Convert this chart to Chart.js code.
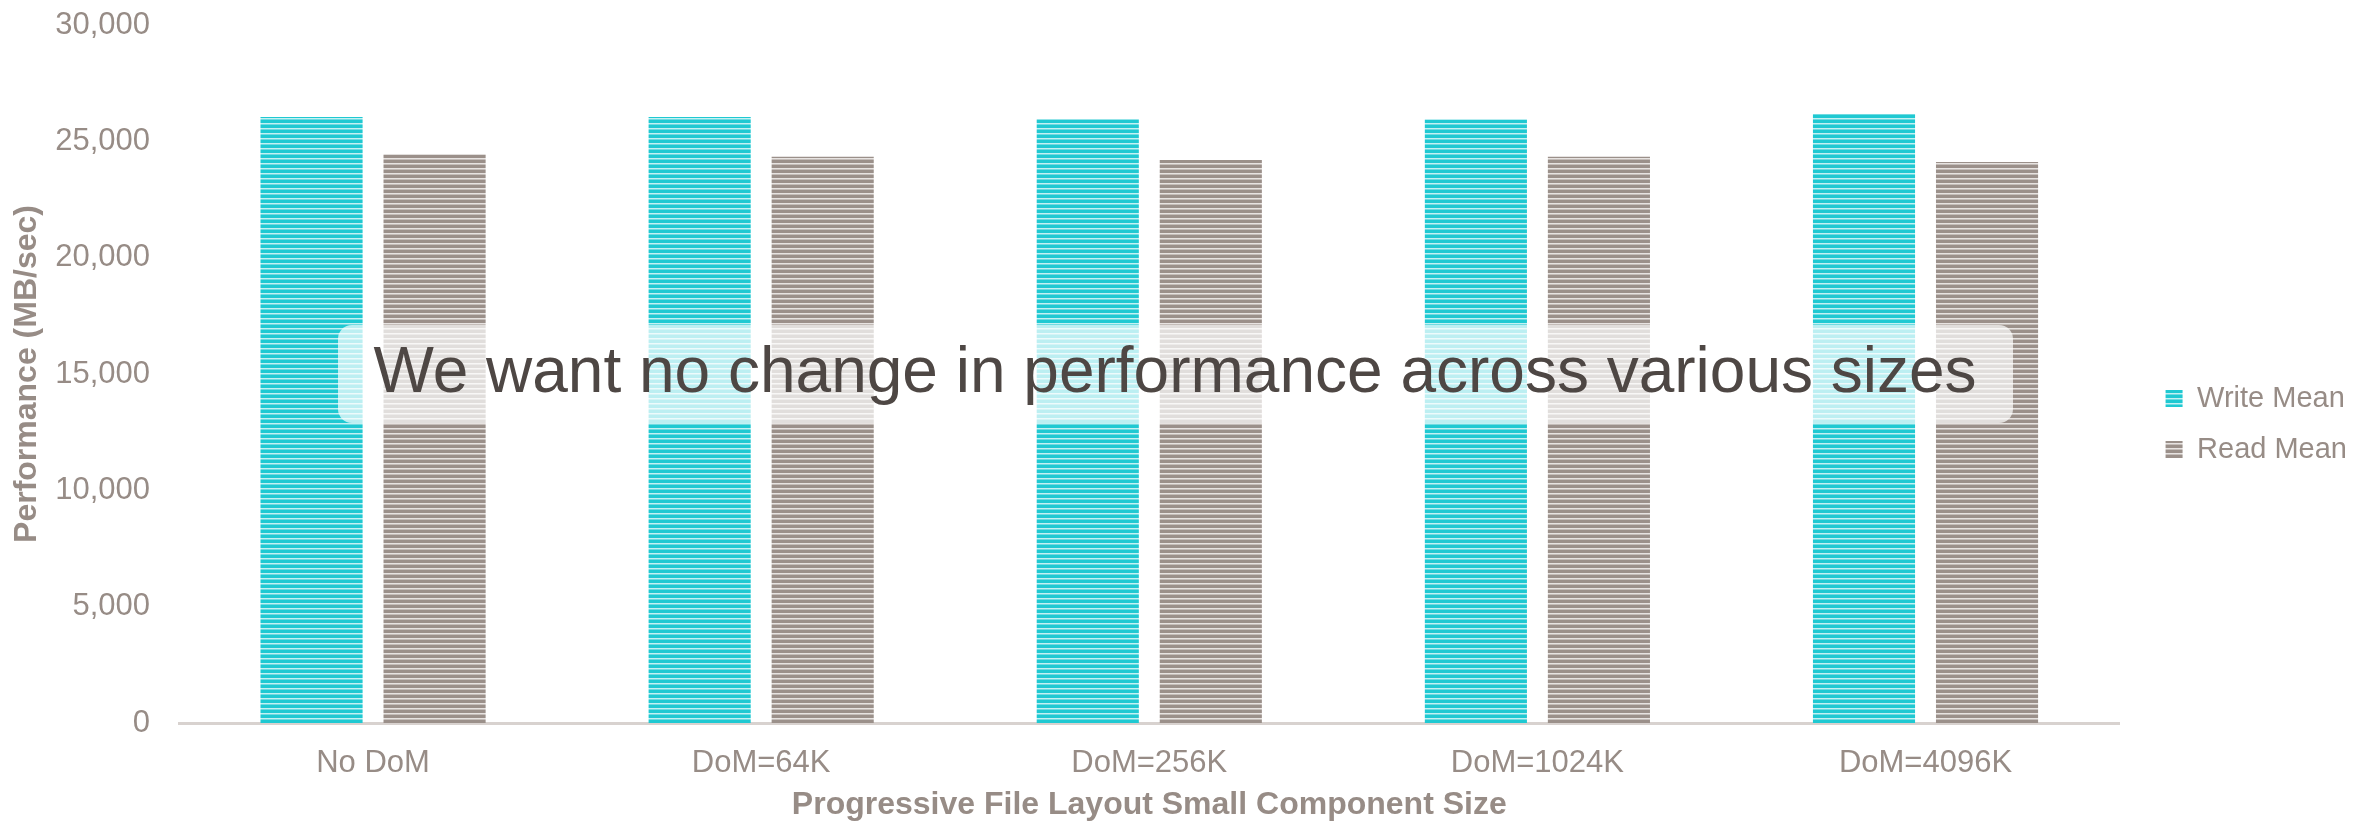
<!DOCTYPE html>
<html>
<head>
<meta charset="utf-8">
<title>Progressive File Layout Performance</title>
<script src="https://cdn.jsdelivr.net/npm/chart.js@4.4.1/dist/chart.umd.min.js"></script>
<style>
  html, body { margin: 0; padding: 0; background: #fff; }
  #perfChart { display: block; }
</style>
</head>
<body>
<canvas id="perfChart" width="2377" height="823"></canvas>
<script>
// Dữ liệu hiệu năng (MB/sec) theo kích thước component nhỏ
const categories = ["No DoM", "DoM=64K", "DoM=256K", "DoM=1024K", "DoM=4096K"];
const writeMean = [26050, 26050, 25950, 25940, 26170];
const readMean = [24430, 24340, 24200, 24340, 24110];
const seriesNames = ["Write Mean", "Read Mean"];
const yMax = 30000;
const yStep = 5000;

const textGray = "#978c86";
const fontFamily = "'Liberation Sans', Arial, sans-serif";

// Tạo pattern sọc ngang cho cột
function stripes(rows) {
  const c = document.createElement("canvas");
  c.width = 4;
  c.height = rows.length;
  const g = c.getContext("2d");
  rows.forEach((col, i) => {
    g.fillStyle = col;
    g.fillRect(0, i, 4, 1);
  });
  return g.createPattern(c, "repeat");
}

const cyanFill = stripes(["#1fc9d2", "#1fc9d2", "#1fc9d2", "#c4f1f3", "#6fdbe1"]);
const grayFill = stripes(["#9b908a", "#9b908a", "#9b908a", "#e7e3e1", "#c4bdb9"]);

// Hộp chú thích nằm đè lên biểu đồ
const calloutBox = {
  id: "calloutBox",
  afterDraw(chart) {
    const ctx = chart.ctx;
    ctx.save();
    ctx.fillStyle = "rgba(255,255,255,0.7)";
    ctx.beginPath();
    ctx.roundRect(338, 325, 1675, 98, 14);
    ctx.fill();
    ctx.fillStyle = "#4e4744";
    ctx.font = "64px " + fontFamily;
    ctx.textAlign = "center";
    ctx.textBaseline = "middle";
    ctx.fillText("We want no change in performance across various sizes", 1175, 374);
    ctx.restore();
  },
};

const ctx = document.getElementById("perfChart").getContext("2d");
new Chart(ctx, {
  type: "bar",
  data: {
    labels: categories,
    datasets: [
      { label: seriesNames[0], data: writeMean, backgroundColor: cyanFill, borderWidth: 0 },
      { label: seriesNames[1], data: readMean, backgroundColor: grayFill, borderWidth: 0 },
    ],
  },
  options: {
    responsive: false,
    animation: false,
    devicePixelRatio: 1,
    layout: { padding: { top: 25, right: 20, bottom: 0, left: 0 } },
    datasets: {
      bar: { categoryPercentage: 0.634, barPercentage: 0.83 },
    },
    plugins: {
      tooltip: { enabled: false },
      legend: {
        position: "right",
        align: "center",
        labels: {
          boxWidth: 17,
          boxHeight: 17,
          padding: 22,
          color: textGray,
          font: { family: fontFamily, size: 29 },
        },
      },
    },
    scales: {
      x: {
        grid: { display: false, drawTicks: false },
        border: { display: true, color: "#d8d2cf", width: 3 },
        ticks: { color: textGray, padding: 22, font: { family: fontFamily, size: 31 } },
        title: {
          display: true,
          text: "Progressive File Layout Small Component Size",
          color: textGray,
          padding: { top: 0, bottom: 2 },
          font: { family: fontFamily, size: 32, weight: "bold", lineHeight: 1 },
        },
        afterFit(scale) { scale.height = 100; },
      },
      y: {
        min: 0,
        max: yMax,
        // tickLength lo khoảng cách nhãn; padding nhỏ để đỉnh trục không bị đẩy xuống
        grid: { display: false, drawTicks: true, tickLength: 26 },
        border: { display: false },
        ticks: {
          stepSize: yStep,
          color: textGray,
          padding: 3,
          font: { family: fontFamily, size: 31 },
          callback: (v) => v.toLocaleString("en-US"),
        },
        title: {
          display: true,
          text: "Performance (MB/sec)",
          color: textGray,
          padding: { top: 11, bottom: 0 },
          font: { family: fontFamily, size: 32, weight: "bold", lineHeight: 1 },
        },
        afterFit(scale) { scale.width = 179; },
      },
      // trục trống bên phải, chỉ để chừa khoảng trước chú giải
      gap: {
        position: "right",
        display: true,
        grid: { display: false, drawTicks: false },
        border: { display: false },
        ticks: { display: false },
        afterFit(scale) { scale.width = 24; },
      },
    },
  },
  plugins: [calloutBox],
});
</script>
</body>
</html>
